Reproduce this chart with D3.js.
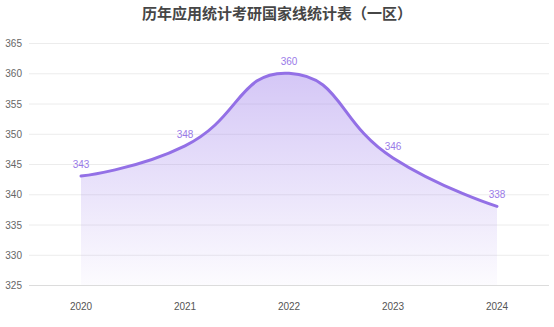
<!DOCTYPE html>
<html><head><meta charset="utf-8">
<script src="https://cdn.jsdelivr.net/npm/d3@7"></script>
<style>body{margin:0;background:#fff}svg{display:block}</style>
</head><body><svg id="c" width="554" height="327"></svg>
<script>
const title = "历年应用统计考研国家线统计表（一区）";
const years = ["2020","2021","2022","2023","2024"];
const scores = [343,348,360,346,338];
const yTicks = [325,330,335,340,345,350,355,360,365];

const svg = d3.select("#c");
const x = d3.scalePoint().domain(years).range([81, 497]);
const y = d3.scaleLinear().domain([325,365]).range([285,43]);

const defs = svg.append("defs");
const g = defs.append("linearGradient").attr("id","ga").attr("x1",0).attr("y1",0).attr("x2",0).attr("y2",1);
g.append("stop").attr("offset","0%").attr("stop-color","rgb(160,130,235)").attr("stop-opacity",0.45);
g.append("stop").attr("offset","100%").attr("stop-color","rgb(160,130,235)").attr("stop-opacity",0.03);

svg.append("text").attr("x",277).attr("y",19).attr("text-anchor","middle")
  .attr("font-family","'Noto Sans CJK SC', sans-serif").attr("font-weight","bold")
  .attr("font-size",15).attr("fill","#464646").text(title);

const yAxis = svg.append("g");
yAxis.selectAll("line").data(yTicks).join("line")
  .attr("x1",29).attr("x2",549).attr("y1",d=>y(d)+0.5).attr("y2",d=>y(d)+0.5)
  .attr("stroke",d=>d===325?"#dcdcdc":"#ececec").attr("stroke-width",1);
yAxis.selectAll("text").data(yTicks).join("text")
  .attr("x",22).attr("y",d=>y(d)+4).attr("text-anchor","end")
  .attr("font-family","Arial, 'Liberation Sans', sans-serif").attr("font-size",10).attr("fill","#666")
  .text(d=>d);

svg.append("g").selectAll("text").data(years).join("text")
  .attr("x",d=>x(d)).attr("y",310).attr("text-anchor","middle")
  .attr("font-family","Arial, 'Liberation Sans', sans-serif").attr("font-size",10).attr("fill","#555")
  .text(d=>d);

const data = years.map((yr,i)=>({yr, v:scores[i]}));
const pts = data.map(d=>[x(d.yr), y(d.v)]);

// ECharts-style smooth curve (smooth = 0.5)
function smoothPath(p, ctx, smooth){
  const n = p.length;
  const cpL = [], cpR = [];
  for(let i=0;i<n;i++){
    if(i===0 || i===n-1){ cpL[i]=p[i]; cpR[i]=p[i]; continue; }
    const prev=p[i-1], next=p[i+1], cur=p[i];
    const vx=(next[0]-prev[0])*smooth, vy=(next[1]-prev[1])*smooth;
    const d0=Math.hypot(cur[0]-prev[0],cur[1]-prev[1]);
    const d1=Math.hypot(next[0]-cur[0],next[1]-cur[1]);
    const s=d0+d1, r0=d0/s, r1=d1/s;
    cpL[i]=[cur[0]-vx*r0, cur[1]-vy*r0];
    cpR[i]=[cur[0]+vx*r1, cur[1]+vy*r1];
  }
  ctx.moveTo(p[0][0],p[0][1]);
  for(let i=1;i<n;i++){
    ctx.bezierCurveTo(cpR[i-1][0],cpR[i-1][1],cpL[i][0],cpL[i][1],p[i][0],p[i][1]);
  }
}
const lp = d3.path(); smoothPath(pts, lp, 0.5);
const ap = d3.path(); smoothPath(pts, ap, 0.5);
ap.lineTo(pts[pts.length-1][0], y(325)); ap.lineTo(pts[0][0], y(325)); ap.closePath();

svg.append("path").attr("d", ap.toString()).attr("fill","url(#ga)");
svg.append("path").attr("d", lp.toString())
  .attr("fill","none").attr("stroke","#9370e6").attr("stroke-width",3).attr("stroke-linecap","round");

svg.append("g").selectAll("text").data(data).join("text")
  .attr("x",d=>x(d.yr)).attr("y",d=>y(d.v)-8).attr("text-anchor","middle")
  .attr("font-family","Arial, 'Liberation Sans', sans-serif").attr("font-size",10).attr("fill","#9a7ae8")
  .text(d=>d.v);
</script></body></html>
